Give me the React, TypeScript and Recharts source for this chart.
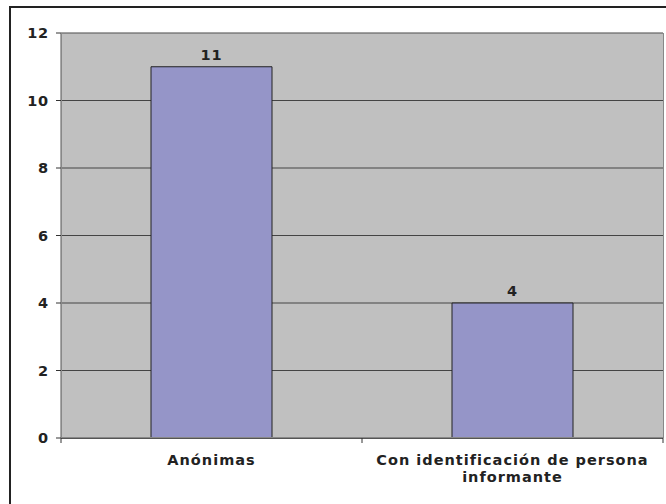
import React from 'react';
import { BarChart, Bar, XAxis, YAxis, CartesianGrid, LabelList } from 'recharts';

const categories = ['Anónimas', 'Con identificación de persona informante'];
const values = [11, 4];
const yTicks = [0, 2, 4, 6, 8, 10, 12];

const data = categories.map((name, i) => ({ name, value: values[i] }));

const FONT = 'Verdana, "DejaVu Sans", sans-serif';

const XTick = (props: any) => {
    const { x, y, payload, width, index, visibleTicksCount } = props;
    const half = width / visibleTicksCount / 2;
    const words: string[] = payload.value.split(' ');
    // wrap long label into two lines like the original
    const lines = words.length > 3 ? [words.slice(0, 4).join(' '), words.slice(4).join(' ')] : [payload.value];
    return (
        <g>
            <line x1={x - half} x2={x - half} y1={y - 8} y2={y - 3} stroke="#333" />
            {index === visibleTicksCount - 1 && (
                <line x1={x + half} x2={x + half} y1={y - 8} y2={y - 3} stroke="#333" />
            )}
            {lines.map((l, i) => (
                <text key={i} x={x} y={y + 19 + i * 17} textAnchor="middle" fontFamily={FONT} fontWeight="bold" fontSize={14.5} letterSpacing={1} fill="#222">
                    {l}
                </text>
            ))}
        </g>
    );
};

const App = () => {
    return (
        <div style={{ position: 'absolute', left: 0, top: 0, width: 666, height: 504, overflow: 'hidden', background: '#fff' }}>
            <div style={{ position: 'absolute', left: 9, top: 6, width: 700, height: 600, border: '2px solid #222' }} />
            <div style={{ position: 'absolute', left: 0, top: 0 }}>
                <BarChart width={666} height={504} data={data} margin={{ top: 33, right: 3, bottom: 0, left: 0 }} barCategoryGap={0}>
                    <CartesianGrid vertical={false} stroke="#444" fill="#C0C0C0" />
                    <XAxis
                        dataKey="name"
                        interval={0}
                        height={66}
                        axisLine={{ stroke: '#555', strokeWidth: 2 }}
                        tickLine={false}
                        tick={<XTick />}
                    />
                    <YAxis
                        domain={[0, 12]}
                        ticks={yTicks}
                        width={61}
                        axisLine={{ stroke: '#555' }}
                        tickLine={{ stroke: '#333' }}
                        tickSize={5}
                        tick={{ fontFamily: FONT, fontWeight: 'bold', fontSize: 14.5, letterSpacing: 0.8, fill: '#222', dx: -5 }}
                    />
                    <Bar dataKey="value" fill="#9595C8" stroke="#222" strokeWidth={1} barSize={121} isAnimationActive={false}>
                        <LabelList dataKey="value" position="top" offset={7} style={{ fontFamily: FONT, fontWeight: 'bold', fontSize: 14.5, letterSpacing: 0.8, fill: '#222' }} />
                    </Bar>
                </BarChart>
            </div>
            <div style={{ position: 'absolute', left: 61, top: 33, width: 603, height: 405, border: '1px solid #888', boxSizing: 'border-box', pointerEvents: 'none' }} />
        </div>
    );
};

export default App;
